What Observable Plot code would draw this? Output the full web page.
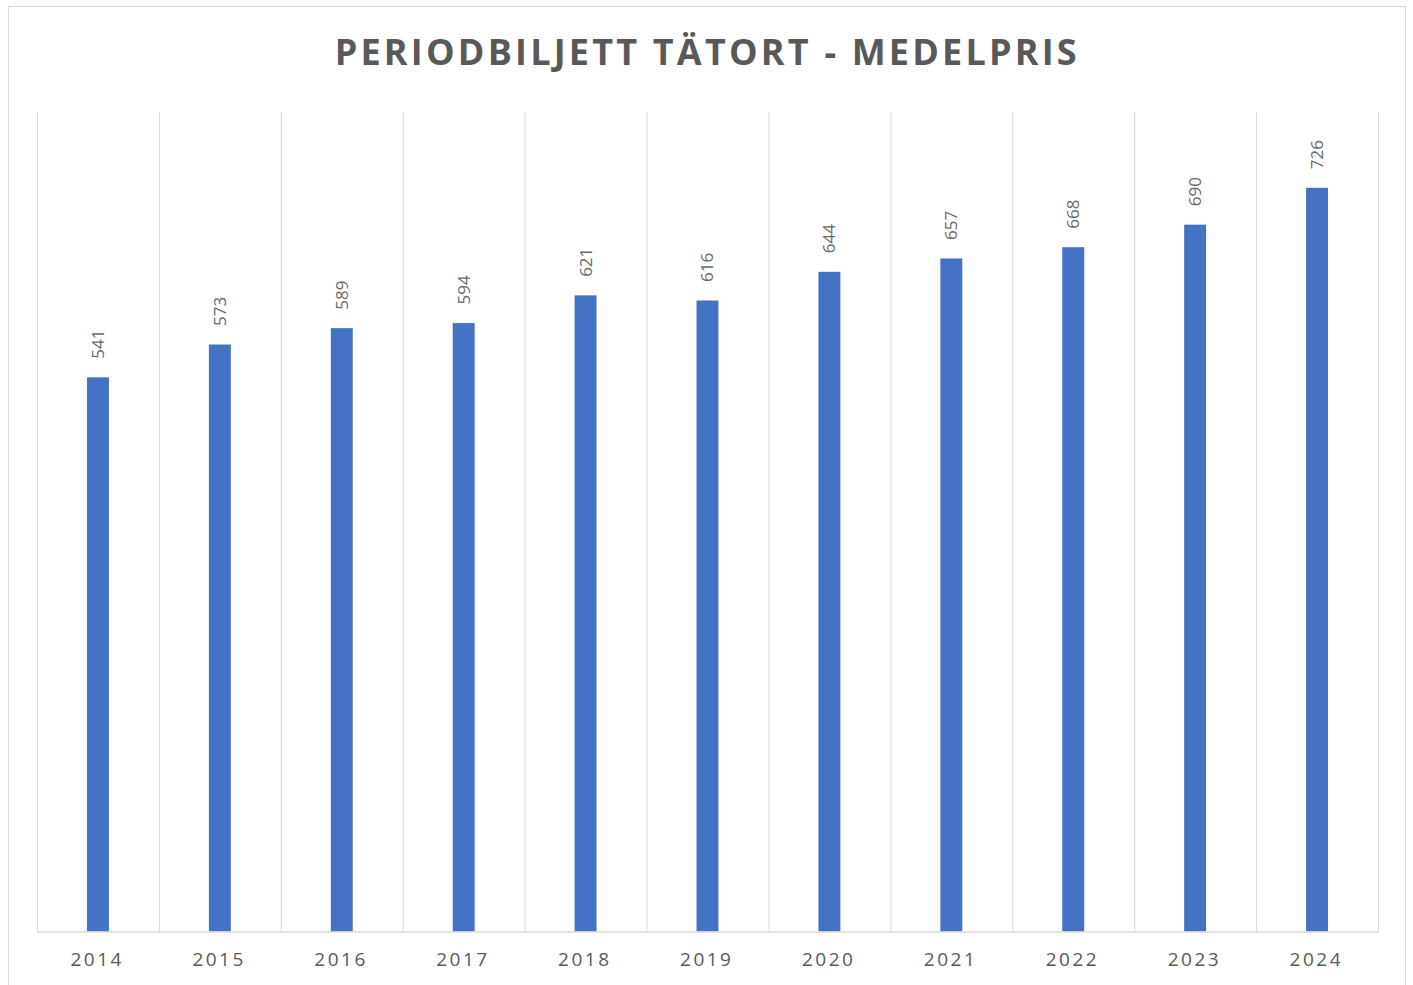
<!DOCTYPE html>
<html>
<head>
<meta charset="utf-8">
<script src="https://cdn.jsdelivr.net/npm/d3@7"></script>
<script src="https://cdn.jsdelivr.net/npm/@observablehq/plot@0.6"></script>
<style>
  html, body { margin: 0; padding: 0; background: #ffffff; }
  #wrap { position: relative; width: 1413px; height: 985px; overflow: hidden; background: #fff; }
  #border { position: absolute; left: 8px; top: 6px; width: 1398px; height: 1000px; border: 1px solid #d9d9d9; box-sizing: border-box; }
  #title { position: absolute; left: 0; top: 34px; width: 1413px; height: 40px; text-align: center;
           font-family: "Open Sans", sans-serif; font-weight: 700; font-size: 36px; line-height: 36px;
           letter-spacing: 3.2px; padding-left: 1.6px; box-sizing: border-box; color: #595959; }
  #chart { position: absolute; left: 0; top: 100px; }
  #chart g[aria-label="x-axis tick label"] text { letter-spacing: 2.5px; }
</style>
</head>
<body>
<div id="wrap">
  <div id="border"></div>
  <div id="title">PERIODBILJETT TÄTORT - MEDELPRIS</div>
  <div id="chart"></div>
</div>
<script>
const years = ["2014","2015","2016","2017","2018","2019","2020","2021","2022","2023","2024"];
const prices = [541, 573, 589, 594, 621, 616, 644, 657, 668, 690, 726];
const yDomain = [0, 800];

const data = years.map((y, i) => ({year: y, price: prices[i]}));

const W = 1413, H = 885;
const mL = 37, mR = 35, mT = 12, mB = 53.5;
const step = (W - mL - mR) / years.length;

const chart = Plot.plot({
  width: W,
  height: H,
  marginLeft: mL,
  marginRight: mR,
  marginTop: mT,
  marginBottom: mB,
  style: {background: "transparent", fontFamily: "'Open Sans', sans-serif"},
  x: {type: "band", domain: years, paddingInner: 0.82, paddingOuter: 0.41, label: null, round: false},
  y: {domain: yDomain, axis: null},
  marks: [
    Plot.ruleX(years, {x: d => d, dx: -step / 2, stroke: "#d9d9d9", strokeWidth: 1}),
    Plot.ruleX([years[years.length - 1]], {x: d => d, dx: step / 2, stroke: "#d9d9d9", strokeWidth: 1}),
    Plot.barY(data, {x: "year", y: "price", fill: "#4472C4"}),
    Plot.ruleY([0], {stroke: "#d9d9d9", strokeWidth: 1.5}),
    Plot.text(data, {x: "year", y: "price", text: d => String(d.price), rotate: -90, textAnchor: "start", dy: -19, fill: "#6a6a6a", fontSize: 17}),
    Plot.axisX({tickSize: 0, tickPadding: 20, fontSize: 19, fill: "#595959", label: null, dx: -1.25})
  ]
});
document.getElementById("chart").appendChild(chart);
</script>
</body>
</html>
